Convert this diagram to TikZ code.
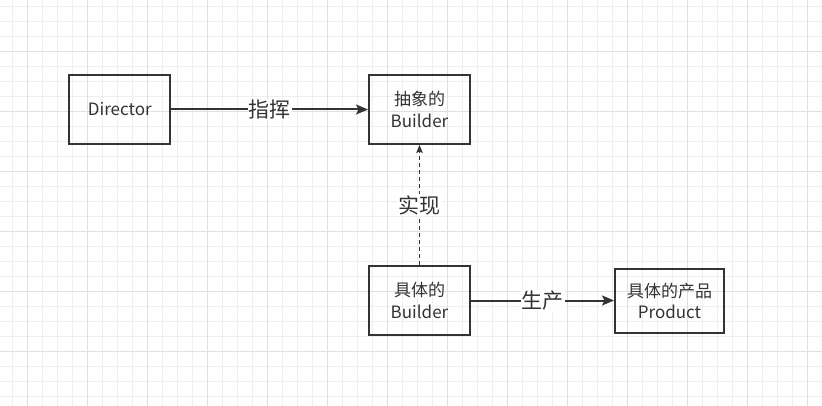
\documentclass[tikz,border=0pt]{standalone}
\usepackage{fontspec}
\setmainfont{Noto Sans CJK SC}
\usetikzlibrary{arrows.meta}
\definecolor{ink}{HTML}{333333}
\definecolor{gridminor}{HTML}{EFEFEF}
\definecolor{gridmajor}{HTML}{E0E0E0}
\tikzset{
  boxnode/.style={draw=ink, line width=2pt, text=ink, align=center, inner sep=0pt,
    font=\fontsize{17}{21.5}\selectfont},
  conn/.style={draw=ink, line width=2pt, -{Stealth[length=12pt,width=10pt,inset=2.5pt]}},
  lbl/.style={fill=white, text=ink, inner sep=1pt, font=\fontsize{21}{23}\selectfont}
}
\begin{document}
\begin{tikzpicture}[x=1pt,y=-1pt]
\useasboundingbox (0,0) rectangle (822,406);
\fill[white] (0,0) rectangle (822,406);
% grid
\foreach \i in {0,...,54} {
  \draw[gridminor, line width=1pt] ({12.7+15*\i},0) -- ({12.7+15*\i},406);
}
\foreach \i in {0,...,27} {
  \draw[gridminor, line width=1pt] (0,{6.7+15*\i}) -- (822,{6.7+15*\i});
}
\foreach \i in {0,...,13} {
  \draw[gridmajor, line width=1pt] ({27.7+60*\i},0) -- ({27.7+60*\i},406);
}
\foreach \i in {0,...,6} {
  \draw[gridmajor, line width=1pt] (0,{51.7+60*\i}) -- (822,{51.7+60*\i});
}
% nodes
\node[boxnode, minimum width=101pt, minimum height=69pt] (dir) at (119.8,109.5) {Director};
\node[boxnode, minimum width=101pt, minimum height=69pt] (abs) at (419.5,109.5) {抽象的\\Builder};
\node[boxnode, minimum width=101pt, minimum height=69pt] (con) at (419.5,300.5) {具体的\\Builder};
\node[boxnode, minimum width=109pt, minimum height=64pt] (prod) at (669.5,301) {具体的产品\\Product};
% connectors
\draw[conn] (dir) -- node[lbl] {指挥} (abs);
\draw[conn, line width=1pt, dash pattern=on 4pt off 3pt,
  -{Stealth[length=8pt,width=6.5pt,inset=1.5pt]}] (con) -- node[lbl] {实现} (abs);
\draw[conn] (con.east) -- node[lbl] {生产} (prod.west |- con.east);
\end{tikzpicture}
\end{document}
